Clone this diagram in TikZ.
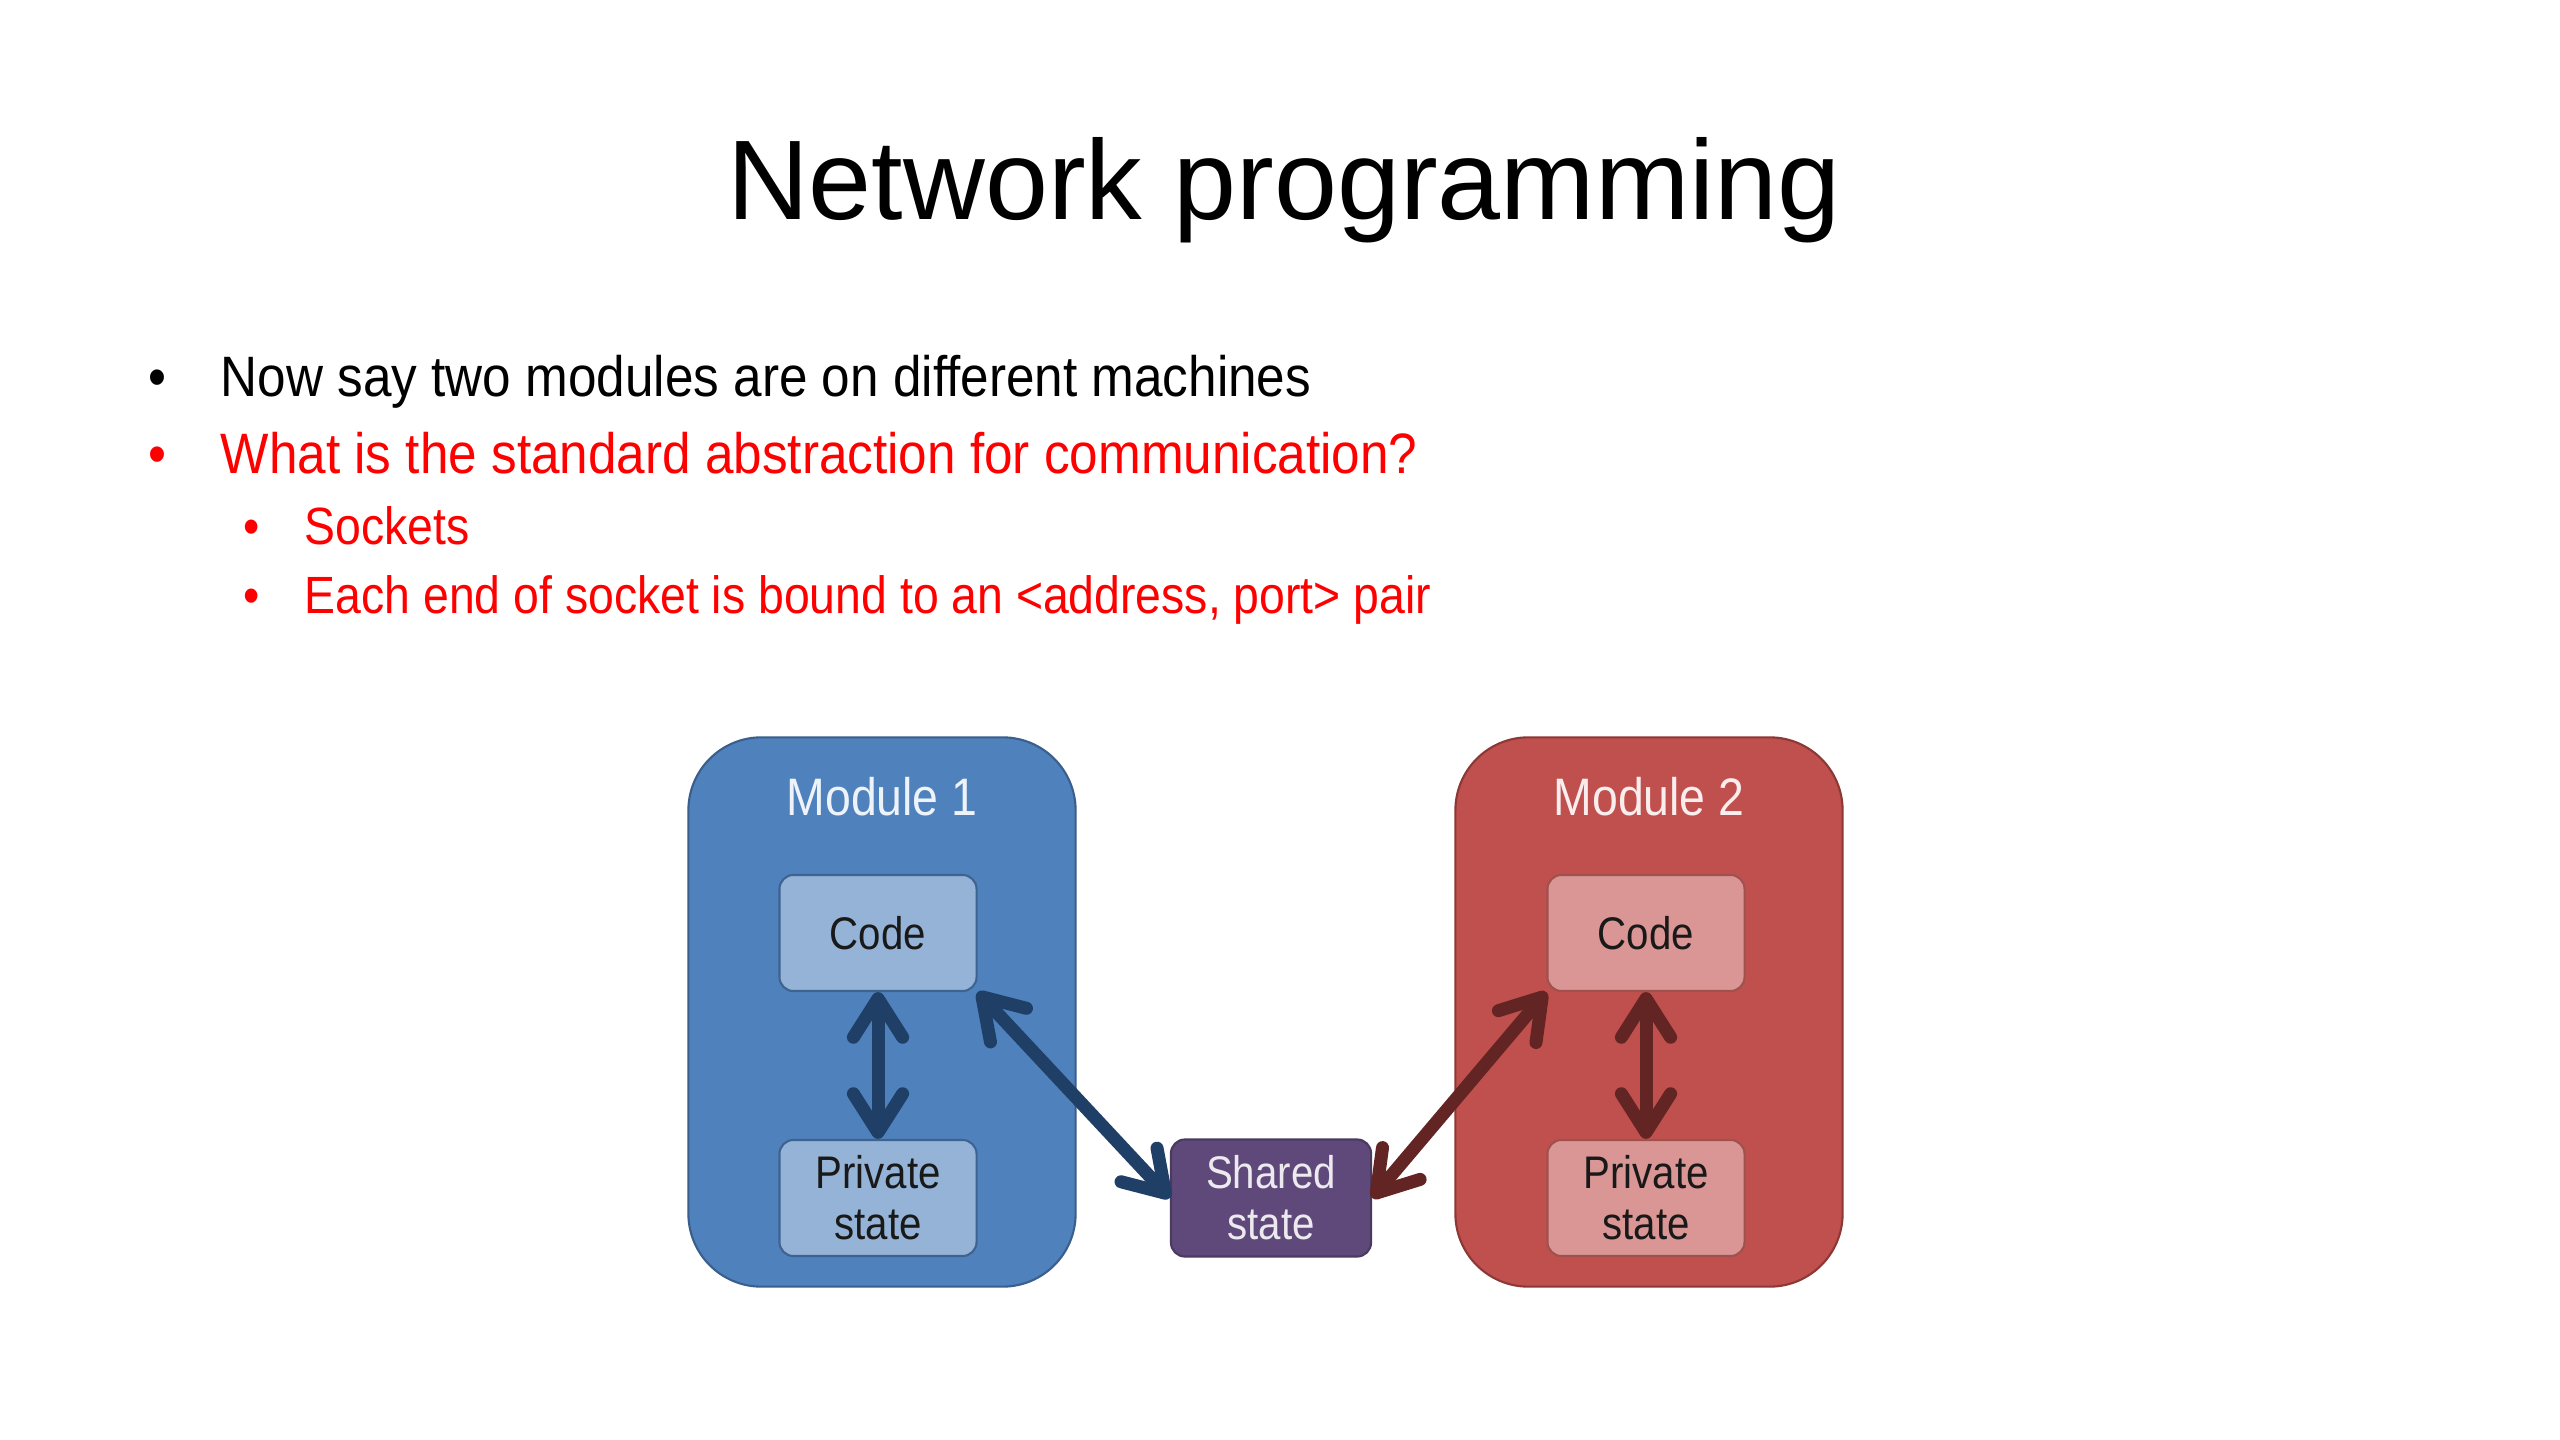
\documentclass[tikz,border=0pt]{standalone}
\usepackage{fontspec}
\setmainfont{Liberation Sans}
\newfontfamily\narrowA[FakeStretch=0.9]{Liberation Sans}
\newfontfamily\narrowC[FakeStretch=0.885]{Liberation Sans}
\newfontfamily\narrowB[FakeStretch=0.88]{Liberation Sans}
\usetikzlibrary{arrows.meta}
\definecolor{mblue}{HTML}{4F81BD}
\definecolor{mblueb}{HTML}{3A5F8C}
\definecolor{cblue}{HTML}{95B3D7}
\definecolor{cblueb}{HTML}{3F6391}
\definecolor{mred}{HTML}{C0504D}
\definecolor{mredb}{HTML}{8C3836}
\definecolor{cred}{HTML}{D99694}
\definecolor{credb}{HTML}{A0504D}
\definecolor{shp}{HTML}{5F497A}
\definecolor{shpb}{HTML}{4A3A60}
\definecolor{ablue}{HTML}{1F3F66}
\definecolor{ared}{HTML}{632523}
\definecolor{txtred}{HTML}{FF0000}
\begin{document}
\begin{tikzpicture}[x=0.01cm,y=-0.01cm,
  modbox/.style={draw, line width=0.6pt, rounded corners=0.73cm, minimum width=3.87cm, minimum height=5.49cm},
  inbox/.style={draw, line width=0.6pt, rounded corners=0.14cm, minimum width=1.97cm, minimum height=1.16cm, align=center, font=\narrowB\fontsize{13}{14.5}\selectfont, text=black!90},
  modlab/.style={anchor=base, font=\narrowB\fontsize{15}{18}\selectfont},
  arrb/.style={line width=3.7pt, color=ablue, {Straight Barb[length=11pt,width=14pt,round]}-{Straight Barb[length=11pt,width=14pt,round]}},
  arrr/.style={line width=3.7pt, color=ared, {Straight Barb[length=11pt,width=14pt,round]}-{Straight Barb[length=11pt,width=14pt,round]}},
  bul/.style={anchor=base west, inner sep=0pt},
  lvone/.style={bul, font=\narrowA\fontsize{16.2}{19}\selectfont},
  lvtwo/.style={bul, font=\narrowC\fontsize{14.9}{18}\selectfont, text=txtred}
]
\useasboundingbox (0,0) rectangle (2560,1440);
\fill[white] (0,0) rectangle (2560,1440);

\node[anchor=base, inner sep=0pt, font=\fontsize{32.2}{36}\selectfont] (title) at (1284,220) {Network programming};

\node[lvone] (b1d) at (148,397) {\textbullet};
\node[lvone] (b1) at (220,397) {Now say two modules are on different machines};
\node[lvone, text=txtred] (b2d) at (148,474) {\textbullet};
\node[lvone, text=txtred] (b2) at (220,474) {What is the standard abstraction for communication?};
\node[lvtwo] (b3d) at (243,545) {\textbullet};
\node[lvtwo] (b3) at (304,545) {Sockets};
\node[lvtwo] (b4d) at (243,614) {\textbullet};
\node[lvtwo] (b4) at (304,614) {Each end of socket is bound to an <address, port> pair};

\node[modbox, fill=mblue, draw=mblueb] (mod1) at (882,1012) {};
\node[modbox, fill=mred, draw=mredb] (mod2) at (1649,1012) {};
\node[modlab, text=white!90!mblue] (m1lab) at (882,816) {Module 1};
\node[modlab, text=white!90!mred] (m2lab) at (1649,816) {Module 2};

\node[inbox, fill=cblue, draw=cblueb] (code1) at (878,933) {Code};
\node[inbox, fill=cblue, draw=cblueb] (priv1) at (878,1198) {Private\\state};
\node[inbox, fill=cred, draw=credb] (code2) at (1646,933) {Code};
\node[inbox, fill=cred, draw=credb] (priv2) at (1646,1198) {Private\\state};
\node[inbox, fill=shp, draw=shpb, text=white!88!shp, minimum width=2.0cm, minimum height=1.17cm] (shared) at (1271,1198) {Shared\\state};

\draw[arrb] (code1.south) -- (priv1.north);
\draw[arrb] (code1.south east) -- (shared.west);
\draw[arrr] (code2.south) -- (priv2.north);
\draw[arrr] (code2.south west) -- (shared.east);
\end{tikzpicture}
\end{document}
